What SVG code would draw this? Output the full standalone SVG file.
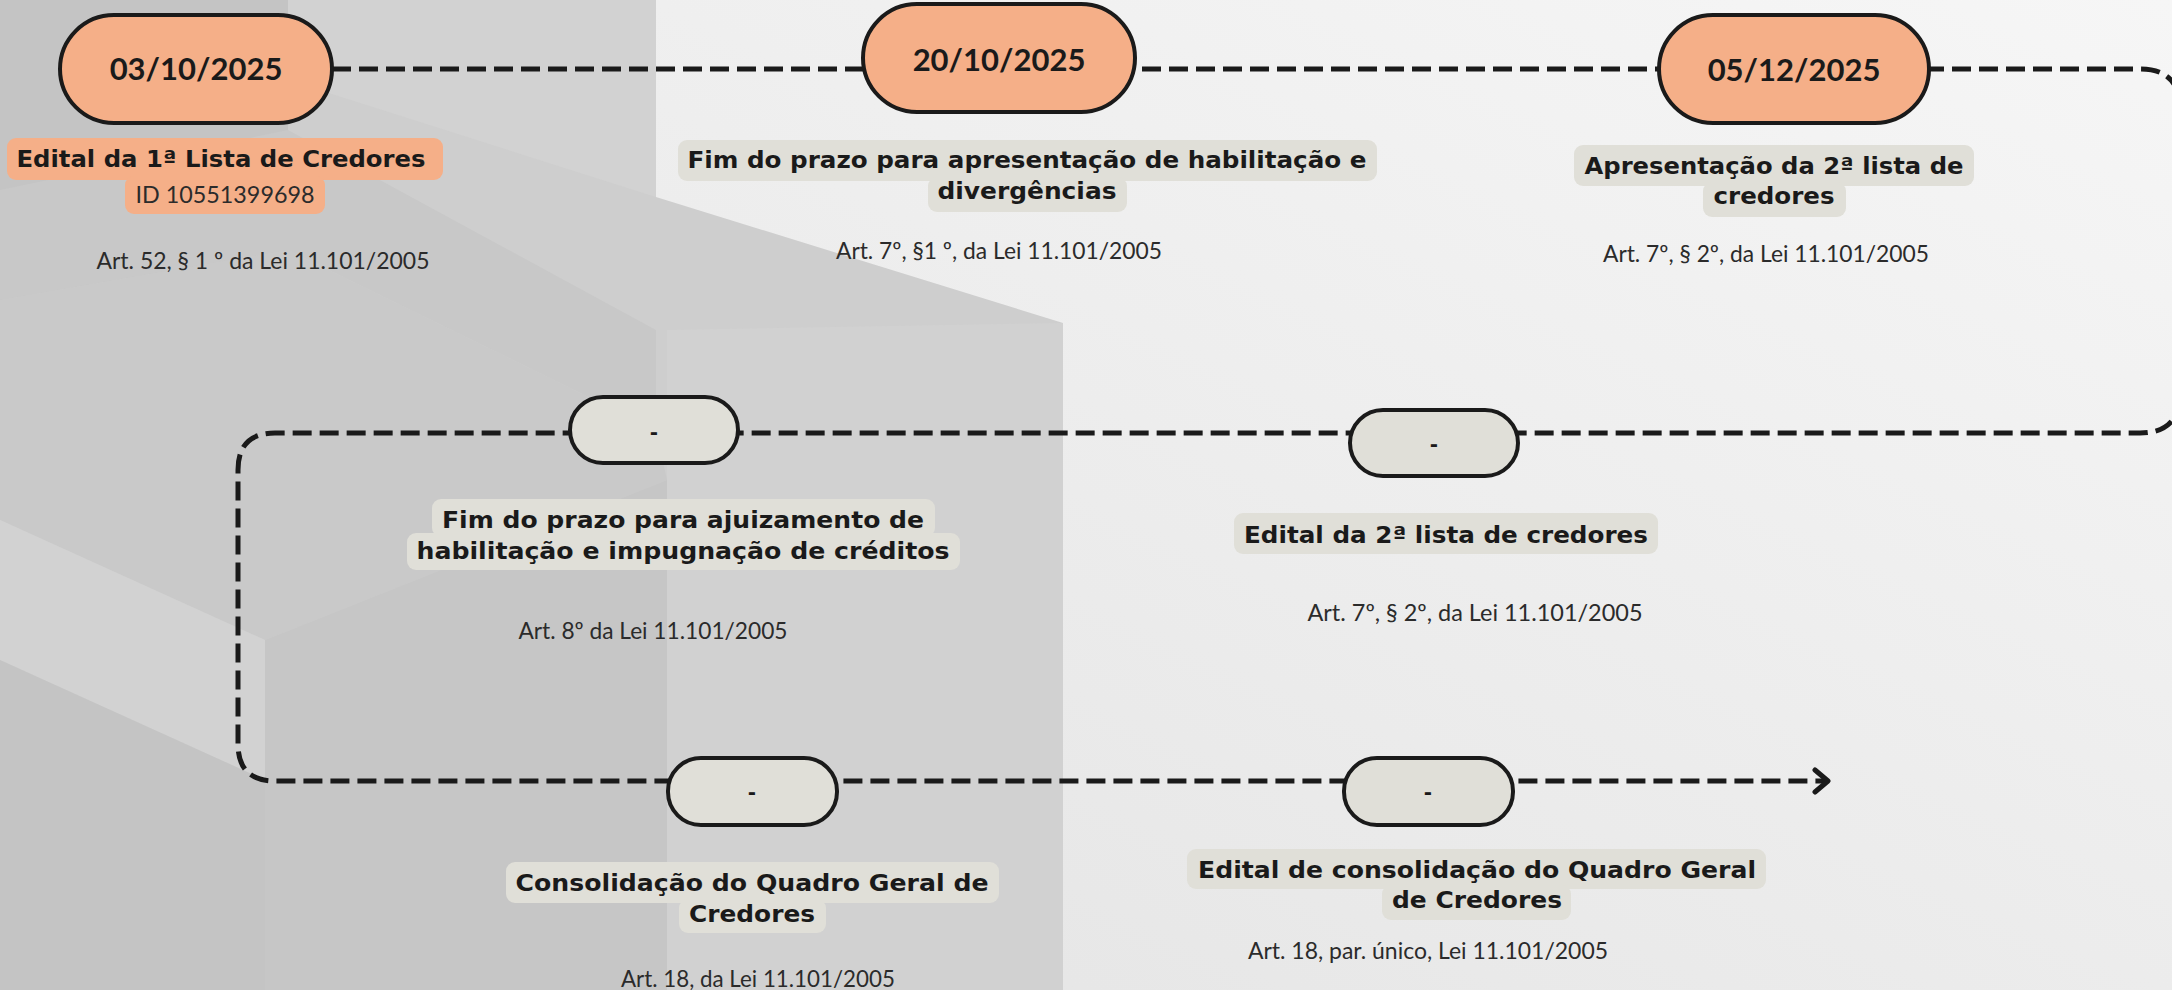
<svg xmlns="http://www.w3.org/2000/svg" width="2172" height="990" viewBox="0 0 2172 990">
  <defs>
    <linearGradient id="bgGrad" x1="1" y1="0" x2="0" y2="1">
      <stop offset="0" stop-color="#f6f6f6"/>
      <stop offset="0.5" stop-color="#ececec"/>
      <stop offset="1" stop-color="#e2e2e2"/>
    </linearGradient>
    <marker id="arr" markerUnits="userSpaceOnUse" viewBox="0 0 24 28" refX="18" refY="14" markerWidth="24" markerHeight="28" orient="auto">
      <path d="M5 3 L18 14 L5 25" fill="none" stroke="#1a1a1a" stroke-width="5" stroke-linecap="round" stroke-linejoin="round"/>
    </marker>
    <style>
      .pillA { fill: #f5af88; stroke: #1a1a1a; stroke-width: 4; }
      .pillB { fill: #e0dfd8; stroke: #1a1a1a; stroke-width: 4; }
      .boxA { fill: #f5af88; }
      .boxB { fill: #e0dfd8; }
      .date { font-family: Lato, "Liberation Sans", sans-serif; font-weight: 700; font-size: 31px; fill: #1a1a1a; text-anchor: middle; }
      .dash { font-family: "DejaVu Sans", sans-serif; font-weight: 700; font-size: 20px; fill: #1a1a1a; text-anchor: middle; }
      .lbl { font-family: "DejaVu Sans", "Liberation Sans", sans-serif; font-weight: 700; font-size: 23px; fill: #1a1a1a; text-anchor: middle; }
      .idt { font-family: Lato, "Liberation Sans", sans-serif; font-weight: 400; font-size: 24px; fill: #2b2b2b; text-anchor: middle; }
      .art { font-family: Lato, "Liberation Sans", sans-serif; font-weight: 400; font-size: 23px; fill: #2b2b2b; text-anchor: middle; }
      .conn { fill: none; stroke: #1a1a1a; stroke-width: 5; stroke-dasharray: 19 8; }
    </style>
  </defs>

  <g id="background">
    <rect x="0" y="0" width="2172" height="990" fill="url(#bgGrad)"/>
    <polygon points="0,0 656,0 656,197 1063,323 1063,990 0,990" fill="#cecece"/>
    <polygon points="288,0 656,0 656,197 288,80" fill="#d2d2d2"/>
    <polygon points="0,0 288,0 288,250 0,300" fill="#c4c4c4"/>
    <polygon points="0,190 288,130 656,330 656,430 288,250 0,300" fill="#c8c8c8"/>
    <polygon points="0,300 288,250 656,430 667,480 265,640 0,520" fill="#c9c9c9"/>
    <polygon points="265,640 667,480 667,990 265,990" fill="#c6c6c6"/>
    <polygon points="0,520 265,640 265,780 0,660" fill="#d2d2d2"/>
    <polygon points="0,660 265,780 265,990 0,990" fill="#c4c4c4"/>
    <polygon points="667,330 1063,323 1063,990 667,990" fill="#d1d1d1"/>
  </g>

  <g id="connectors">
    <path class="conn" d="M 332 69 H 2140 Q 2180 69 2180 109 V 393 Q 2180 433 2140 433 H 275 Q 238 433 238 470 V 744 Q 238 781 275 781 H 1828" marker-end="url(#arr)"/>
  </g>

  <g id="node1">
    <rect class="pillA" x="60" y="15" width="272" height="108" rx="54"/>
    <text class="date" x="196" y="80">03/10/2025</text>
    <rect class="boxA" x="7" y="138" width="436" height="42" rx="9"/>
    <rect class="boxA" x="125" y="176" width="200" height="38" rx="9"/>
    <text class="lbl" x="221" y="167" textLength="409" lengthAdjust="spacingAndGlyphs">Edital da 1ª Lista de Credores</text>
    <text class="idt" x="225" y="203" textLength="179" lengthAdjust="spacingAndGlyphs">ID 10551399698</text>
    <text class="art" x="263" y="269" textLength="333" lengthAdjust="spacingAndGlyphs">Art. 52, § 1 º da Lei 11.101/2005</text>
  </g>

  <g id="node2">
    <rect class="pillA" x="863" y="4" width="272" height="108" rx="54"/>
    <text class="date" x="999" y="71">20/10/2025</text>
    <rect class="boxB" x="678" y="140" width="699" height="41" rx="9"/>
    <rect class="boxB" x="928" y="177" width="199" height="35" rx="9"/>
    <text class="lbl" x="1027" y="168" textLength="679" lengthAdjust="spacingAndGlyphs">Fim do prazo para apresentação de habilitação e</text>
    <text class="lbl" x="1027" y="199" textLength="179" lengthAdjust="spacingAndGlyphs">divergências</text>
    <text class="art" x="999" y="259" textLength="326" lengthAdjust="spacingAndGlyphs">Art. 7º, §1 º, da Lei 11.101/2005</text>
  </g>

  <g id="node3">
    <rect class="pillA" x="1659" y="15" width="270" height="108" rx="54"/>
    <text class="date" x="1794" y="81">05/12/2025</text>
    <rect class="boxB" x="1574" y="145" width="400" height="41" rx="9"/>
    <rect class="boxB" x="1703" y="182" width="143" height="35" rx="9"/>
    <text class="lbl" x="1774" y="174" textLength="379" lengthAdjust="spacingAndGlyphs">Apresentação da 2ª lista de</text>
    <text class="lbl" x="1774" y="204" textLength="121" lengthAdjust="spacingAndGlyphs">credores</text>
    <text class="art" x="1766" y="262" textLength="326" lengthAdjust="spacingAndGlyphs">Art. 7º, § 2º, da Lei 11.101/2005</text>
  </g>

  <g id="node4">
    <rect class="pillB" x="570" y="397" width="168" height="66" rx="33"/>
    <text class="dash" x="654" y="439">-</text>
    <rect class="boxB" x="432" y="499" width="503" height="38" rx="9"/>
    <rect class="boxB" x="407" y="533" width="553" height="37" rx="9"/>
    <text class="lbl" x="683" y="528" textLength="482" lengthAdjust="spacingAndGlyphs">Fim do prazo para ajuizamento de</text>
    <text class="lbl" x="683" y="559" textLength="533" lengthAdjust="spacingAndGlyphs">habilitação e impugnação de créditos</text>
    <text class="art" x="653" y="639" textLength="269" lengthAdjust="spacingAndGlyphs">Art. 8º da Lei 11.101/2005</text>
  </g>

  <g id="node5">
    <rect class="pillB" x="1350" y="410" width="168" height="66" rx="33"/>
    <text class="dash" x="1434" y="451">-</text>
    <rect class="boxB" x="1234" y="513" width="424" height="41" rx="9"/>
    <text class="lbl" x="1446" y="543" textLength="404" lengthAdjust="spacingAndGlyphs">Edital da 2ª lista de credores</text>
    <text class="art" x="1475" y="621" textLength="335" lengthAdjust="spacingAndGlyphs">Art. 7º, § 2º, da Lei 11.101/2005</text>
  </g>

  <g id="node6">
    <rect class="pillB" x="668" y="758" width="169" height="67" rx="33"/>
    <text class="dash" x="752" y="799">-</text>
    <rect class="boxB" x="506" y="862" width="493" height="41" rx="9"/>
    <rect class="boxB" x="679" y="899" width="147" height="34" rx="9"/>
    <text class="lbl" x="752" y="891" textLength="473" lengthAdjust="spacingAndGlyphs">Consolidação do Quadro Geral de</text>
    <text class="lbl" x="752" y="922" textLength="126" lengthAdjust="spacingAndGlyphs">Credores</text>
    <text class="art" x="758" y="987" textLength="274" lengthAdjust="spacingAndGlyphs">Art. 18, da Lei 11.101/2005</text>
  </g>

  <g id="node7">
    <rect class="pillB" x="1344" y="758" width="169" height="67" rx="33"/>
    <text class="dash" x="1428" y="799">-</text>
    <rect class="boxB" x="1187" y="849" width="579" height="40" rx="9"/>
    <rect class="boxB" x="1382" y="885" width="189" height="35" rx="9"/>
    <text class="lbl" x="1477" y="878" textLength="558" lengthAdjust="spacingAndGlyphs">Edital de consolidação do Quadro Geral</text>
    <text class="lbl" x="1477" y="908" textLength="170" lengthAdjust="spacingAndGlyphs">de Credores</text>
    <text class="art" x="1428" y="959" textLength="360" lengthAdjust="spacingAndGlyphs">Art. 18, par. único, Lei 11.101/2005</text>
  </g>
</svg>
